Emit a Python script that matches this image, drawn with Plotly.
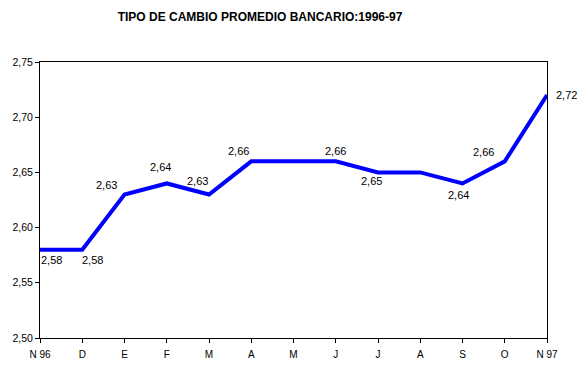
import plotly.graph_objects as go

months = ["N 96", "D", "E", "F", "M", "A", "M", "J", "J", "A", "S", "O", "N 97"]
rates = [2.58, 2.58, 2.63, 2.64, 2.63, 2.66, 2.66, 2.66, 2.65, 2.65, 2.64, 2.66, 2.72]
show_label = [True, True, True, True, True, True, False, True, True, False, True, True, True]
# label offsets in pixels (dx, dy) relative to the data point (style only)
label_dx = [11, 10, -18, -6, -12, -13, 0, 0, -7, 0, -4, -21, 19]
label_dy = [10, 10, -9, -16, -13, -10, -10, -10, 9, 9, 12, -9, 0]
y_ticks = [2.50, 2.55, 2.60, 2.65, 2.70, 2.75]

x = list(range(len(months)))
fmt = lambda v: f"{v:.2f}".replace(".", ",")

fig = go.Figure()
fig.add_trace(go.Scatter(
    x=x, y=rates, mode="lines",
    line=dict(color="#0000FF", width=4),
    cliponaxis=False, hoverinfo="skip",
))

for xi, v, s, dx, dy in zip(x, rates, show_label, label_dx, label_dy):
    if not s:
        continue
    fig.add_annotation(
        x=xi, y=v, text=fmt(v), showarrow=False,
        xanchor="center", yanchor="middle", xshift=dx, yshift=-dy,
        font=dict(family="Liberation Sans, Arial", size=11, color="black"),
    )

fig.update_layout(
    width=587, height=372,
    margin=dict(l=36, r=40, t=62, b=33),
    paper_bgcolor="white", plot_bgcolor="white",
    showlegend=False,
    title=dict(text="<b>TIPO DE CAMBIO PROMEDIO BANCARIO:1996-97</b>",
               x=260 / 587, xanchor="center", y=1 - 17 / 372, yanchor="middle",
               font=dict(family="Liberation Sans, Arial", size=12, color="black")),
    font=dict(family="Liberation Sans, Arial", size=10, color="black"),
)
fig.update_xaxes(
    range=[0, len(months) - 1], tickvals=x, ticktext=months,
    showline=True, linecolor="black", linewidth=1, mirror=True,
    ticks="outside", ticklen=4, tickcolor="black", showgrid=False, zeroline=False,
    tickfont=dict(size=10), ticklabelstandoff=3,
)
fig.update_yaxes(
    range=[2.50, 2.75], tickvals=y_ticks, ticktext=[fmt(v) for v in y_ticks],
    showline=True, linecolor="black", linewidth=1, mirror=True,
    ticks="outside", ticklen=4, tickcolor="black", showgrid=False, zeroline=False,
    tickfont=dict(size=10.5),
)

fig.write_html("out.html")
